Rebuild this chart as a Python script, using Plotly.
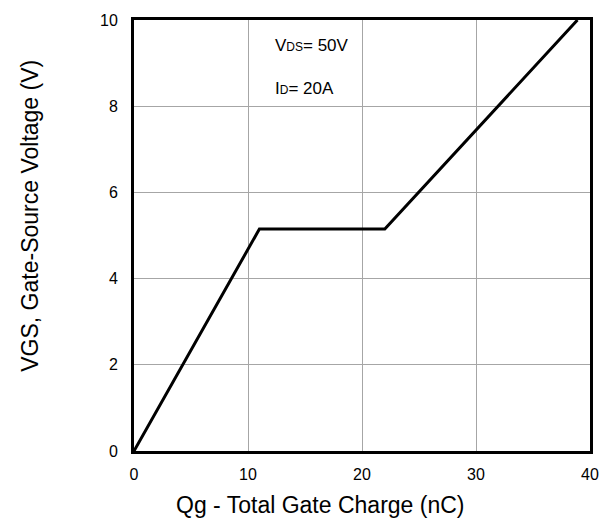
import plotly.graph_objects as go

qg = [0, 11, 22, 38.9]
vgs = [0, 5.15, 5.15, 10]
x_ticks = [0, 10, 20, 30, 40]
y_ticks = [0, 2, 4, 6, 8, 10]

FONT = "Arial, Liberation Sans"
W, H = 613, 522
ML, MR, MT, MB = 134, 23, 15, 71
PW, PH = W - ML - MR, H - MT - MB


def px_to_paper(px, py):
    return (px - ML) / PW, (H - py - MB) / PH


fig = go.Figure()
fig.add_trace(go.Scatter(x=qg, y=vgs, mode="lines",
                         line=dict(color="black", width=3), showlegend=False))

fig.add_annotation(x=12.2, y=9.4, xref="x", yref="y", xanchor="left", yanchor="middle",
                   text="V<span style='font-size:12px'>DS</span>= 50V", showarrow=False,
                   font=dict(family=FONT, size=17, color="black"))
fig.add_annotation(x=12.2, y=8.4, xref="x", yref="y", xanchor="left", yanchor="middle",
                   text="I<span style='font-size:12px'>D</span>= 20A", showarrow=False,
                   font=dict(family=FONT, size=17, color="black"))

# axis titles (placed in pixel positions)
tx, ty = px_to_paper(320, 506)
fig.add_annotation(x=tx, y=ty, xref="paper", yref="paper", showarrow=False,
                   xanchor="center", yanchor="middle",
                   text="Qg - Total Gate Charge (nC)", font=dict(family=FONT, size=23, color="black"))
vx, vy = px_to_paper(30, 213)
fig.add_annotation(x=vx, y=vy, xref="paper", yref="paper", showarrow=False, textangle=-90,
                   xanchor="center", yanchor="middle",
                   text="VGS, Gate-Source Voltage (V)", font=dict(family=FONT, size=23, color="black"))

axis_common = dict(showline=True, linecolor="black", linewidth=3, mirror=True,
                   showgrid=True, gridcolor="#a6a6a6", gridwidth=1, zeroline=False,
                   ticks="", tickfont=dict(family=FONT, size=16, color="black"))

fig.update_xaxes(range=[0, 40], tickvals=x_ticks, ticklabelstandoff=7, **axis_common)
fig.update_yaxes(range=[0, 10], tickvals=y_ticks, ticklabelstandoff=10, **axis_common)

fig.update_layout(width=W, height=H, margin=dict(l=ML, r=MR, t=MT, b=MB),
                  plot_bgcolor="white", paper_bgcolor="white")

fig.write_html("out.html")
